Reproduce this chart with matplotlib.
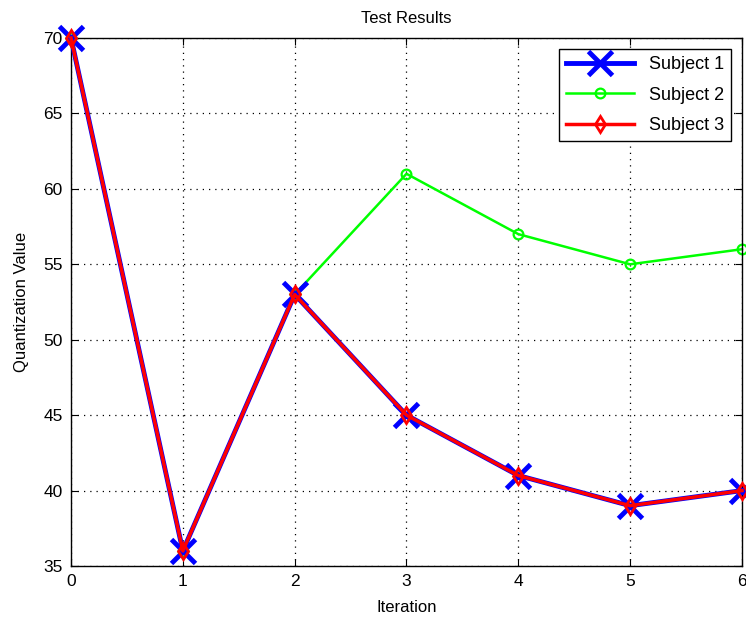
import matplotlib.pyplot as plt

plt.rcParams['font.family'] = ['Liberation Sans', 'DejaVu Sans']

iteration = [0, 1, 2, 3, 4, 5, 6]
subject1 = [70, 36, 53, 45, 41, 39, 40]
subject2 = [70, 36, 53, 61, 57, 55, 56]
subject3 = [70, 36, 53, 45, 41, 39, 40]

fig = plt.figure(figsize=(7.46, 6.26), dpi=100)
ax = fig.add_axes([0.0952, 0.0958, 0.8994, 0.8435])

ax.plot(iteration, subject1, color='#0000ff', lw=3.5, marker='x', markersize=17,
        markeredgewidth=3.5, label='Subject 1', zorder=3, clip_on=False)
ax.plot(iteration, subject2, color='#00ff00', lw=1.8, marker='o', markersize=7,
        markerfacecolor='none', markeredgewidth=1.6, label='Subject 2', zorder=2,
        clip_on=False)
ax.plot(iteration, subject3, color='#ff0000', lw=2.5, marker='d', markersize=8,
        markerfacecolor='none', markeredgewidth=2, label='Subject 3', zorder=4,
        clip_on=False)

ax.set_xlim(0, 6)
ax.set_ylim(35, 70)
ax.set_xticks(range(0, 7))
ax.set_yticks(range(35, 71, 5))
ax.grid(True, color='black', linestyle=(0, (1, 4)), linewidth=0.9)
ax.tick_params(direction='in', top=True, right=True, labelsize=12.5, length=5, pad=6)
for s in ax.spines.values():
    s.set_linewidth(1.0)

ax.set_title('Test Results', fontsize=12, pad=11)
ax.set_xlabel('Iteration', fontsize=12, labelpad=8)
ax.set_ylabel('Quantization Value', fontsize=12, labelpad=10)

leg = ax.legend(loc='upper right', fontsize=13, fancybox=False, framealpha=1,
                edgecolor='black', handlelength=3.8, borderaxespad=0.6,
                labelspacing=0.75)
leg.get_frame().set_linewidth(1.0)

fig.savefig('out.png', dpi=100)
